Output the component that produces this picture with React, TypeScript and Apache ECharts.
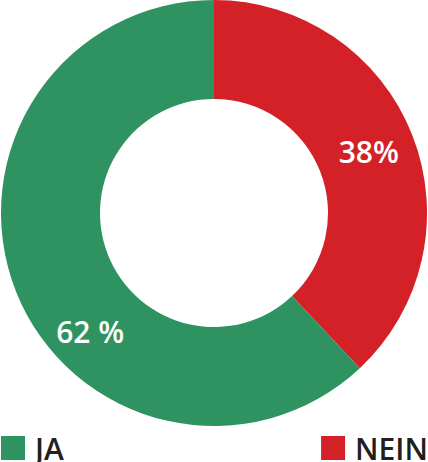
import React, { useEffect, useRef } from "react";
import * as echarts from "echarts";

const categories = ["NEIN", "JA"];
const values = [38, 62];
const labels = ["38%", "62 %"];
const colors = ["#D42027", "#2E9360"];

export default function App() {
  const ref = useRef<HTMLDivElement>(null);
  useEffect(() => {
    document.body.style.margin = "0";
    const chart = echarts.init(ref.current!, null, { renderer: "svg" });
    const font = "'Open Sans', sans-serif";
    const legendText = {
      fontFamily: font,
      fontWeight: 600,
      fontSize: 30,
      lineHeight: 24,
      color: "#231F20",
      padding: [0, 0, 14, 5],
    };
    chart.setOption({
      animation: false,
      legend: [
        {
          data: [categories[1]],
          left: 1,
          top: 429,
          padding: 0,
          icon: "rect",
          itemWidth: 24,
          itemHeight: 24,
          selectedMode: false,
          textStyle: legendText,
        },
        {
          data: [categories[0]],
          right: 0,
          top: 429,
          padding: 0,
          icon: "rect",
          itemWidth: 24,
          itemHeight: 24,
          selectedMode: false,
          textStyle: legendText,
        },
      ],
      series: [
        {
          type: "pie",
          center: [214, 213],
          radius: [114, 213],
          startAngle: 90,
          clockwise: true,
          avoidLabelOverlap: false,
          emphasis: { disabled: true },
          label: {
            show: true,
            position: "inside",
            color: "#fff",
            fontFamily: font,
            fontWeight: 600,
            fontSize: 30,
          },
          labelLine: { show: false },
          data: categories.map((c, i) => ({
            name: c,
            value: values[i],
            itemStyle: { color: colors[i] },
            label: {
              formatter: labels[i],
              offset: i === 1 ? [31, 57] : [0, 0],
            },
          })),
        },
      ],
    });
    return () => chart.dispose();
  }, []);
  return <div ref={ref} style={{ width: 428, height: 462 }} />;
}
